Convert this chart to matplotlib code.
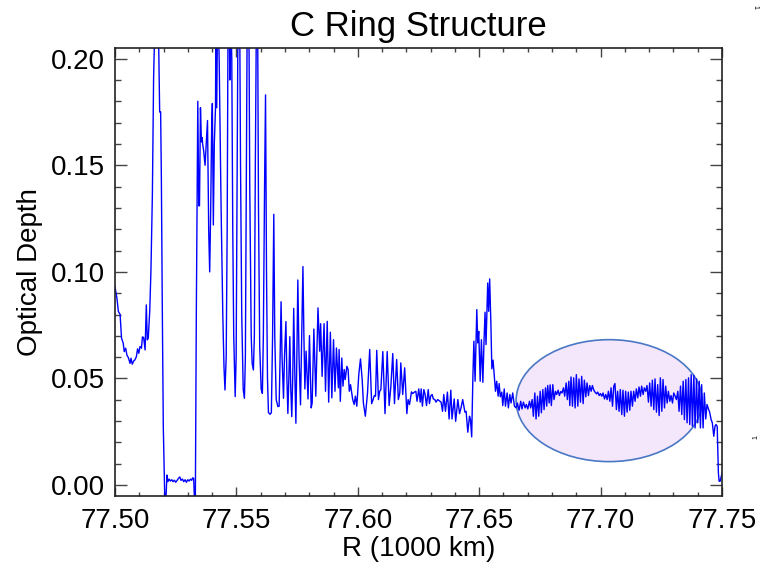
import matplotlib.pyplot as plt
import matplotlib.patches as patches
from matplotlib.ticker import MultipleLocator, FormatStrFormatter

plt.rcParams['font.family'] = ['Liberation Sans', 'DejaVu Sans']

# radius in units of 1000 km, optical depth
# inner edge, dense ringlet and the empty gap
r_inner = [77.5000, 77.5008, 77.5014, 77.5021, 77.5027, 77.5034, 77.5038, 77.5044,
           77.5049, 77.5055, 77.5062, 77.5066, 77.5071, 77.5077, 77.5082, 77.5088,
           77.5093, 77.5098, 77.5103, 77.5109, 77.5113, 77.5118, 77.5124, 77.5129,
           77.5133, 77.5137, 77.5143, 77.5148, 77.5154, 77.5159, 77.5165, 77.5169,
           77.5173, 77.5179, 77.5184, 77.5188, 77.5191, 77.5195, 77.5199, 77.5205,
           77.5210, 77.5214, 77.5218, 77.5223, 77.5228, 77.5234, 77.5239, 77.5245,
           77.5250, 77.5256, 77.5261, 77.5267, 77.5272, 77.5278, 77.5283, 77.5289,
           77.5294, 77.5300, 77.5305, 77.5311, 77.5316, 77.5320, 77.5324, 77.5327,
           77.5331]
tau_inner = [0.0930, 0.0876, 0.0814, 0.0801, 0.0689, 0.0665, 0.0626, 0.0642,
             0.0610, 0.0598, 0.0571, 0.0595, 0.0567, 0.0582, 0.0587, 0.0602,
             0.0639, 0.0618, 0.0650, 0.0642, 0.0695, 0.0692, 0.0634, 0.0845,
             0.0681, 0.0689, 0.0814, 0.1002, 0.1362, 0.1909, 0.2200, 0.2120,
             0.2300, 0.2140, 0.1750, 0.1750, 0.1440, 0.0810, 0.0270, -0.0060,
             -0.0060, 0.0047, 0.0016, 0.0028, 0.0019, 0.0025, 0.0016, 0.0023,
             0.0013, 0.0022, 0.0031, 0.0038, 0.0022, 0.0028, 0.0016, 0.0025,
             0.0013, 0.0025, 0.0019, 0.0028, 0.0022, 0.0034, 0.0031, -0.0060,
             -0.0060]

# strong wave train beyond the gap
r_wave = [77.5335, 77.5341, 77.5345, 77.5348, 77.5352, 77.5356, 77.5359, 77.5361,
          77.5365, 77.5371, 77.5376, 77.5381, 77.5386, 77.5390, 77.5394, 77.5398,
          77.5401, 77.5405, 77.5409, 77.5414, 77.5416, 77.5419, 77.5423, 77.5429,
          77.5437, 77.5444, 77.5449, 77.5453, 77.5458, 77.5462, 77.5466, 77.5470,
          77.5473, 77.5475, 77.5481, 77.5485, 77.5489, 77.5495, 77.5499, 77.5503,
          77.5507, 77.5513, 77.5517, 77.5522, 77.5528, 77.5533, 77.5537, 77.5541,
          77.5545, 77.5551, 77.5555, 77.5561, 77.5565, 77.5570, 77.5574, 77.5578,
          77.5583, 77.5587, 77.5591, 77.5596, 77.5602, 77.5607, 77.5611, 77.5616,
          77.5620, 77.5624, 77.5628, 77.5632, 77.5639, 77.5644, 77.5649, 77.5654,
          77.5658, 77.5664, 77.5671, 77.5676, 77.5680, 77.5684, 77.5688, 77.5694,
          77.5698, 77.5704, 77.5708, 77.5712, 77.5716, 77.5720, 77.5724, 77.5728,
          77.5732, 77.5736, 77.5741, 77.5745, 77.5749, 77.5753, 77.5758, 77.5764,
          77.5769, 77.5774, 77.5778, 77.5782]
tau_wave = [0.0810, 0.1800, 0.1310, 0.1310, 0.1770, 0.1610, 0.1630, 0.1600,
            0.1570, 0.1500, 0.1610, 0.1710, 0.1190, 0.1000, 0.1280, 0.1670,
            0.1790, 0.1220, 0.1600, 0.1770, 0.2300, 0.1770, 0.2300, 0.2000,
            0.1300, 0.0800, 0.0550, 0.0446, 0.0600, 0.1200, 0.2300, 0.2300,
            0.1900, 0.2300, 0.2000, 0.1200, 0.0700, 0.0415, 0.0600, 0.1500,
            0.2300, 0.2300, 0.1500, 0.0800, 0.0450, 0.0407, 0.0600, 0.1500,
            0.2300, 0.2300, 0.1400, 0.0700, 0.0570, 0.0540, 0.0700, 0.1500,
            0.2300, 0.2300, 0.1300, 0.0650, 0.0450, 0.0430, 0.0700, 0.1400,
            0.1830, 0.1000, 0.0500, 0.0340, 0.0332, 0.0340, 0.0700, 0.1270,
            0.0700, 0.0400, 0.0368, 0.0370, 0.0600, 0.0860, 0.0600, 0.0407,
            0.0600, 0.0767, 0.0500, 0.0336, 0.0500, 0.0696, 0.0450, 0.0321,
            0.0500, 0.0829, 0.0500, 0.0290, 0.0600, 0.0962, 0.0600, 0.0376,
            0.0700, 0.1025, 0.0700, 0.0451]

# decaying waves and the sharp feature near 77.65
r_mid = [77.5787, 77.5795, 77.5801, 77.5808, 77.5812, 77.5819, 77.5827, 77.5836,
         77.5843, 77.5847, 77.5853, 77.5861, 77.5867, 77.5874, 77.5880, 77.5887,
         77.5893, 77.5900, 77.5906, 77.5912, 77.5920, 77.5923, 77.5928, 77.5934,
         77.5939, 77.5944, 77.5948, 77.5955, 77.5960, 77.5965, 77.5970, 77.5974,
         77.5979, 77.5985, 77.5990, 77.5996, 77.6004, 77.6011, 77.6018, 77.6023,
         77.6031, 77.6040, 77.6049, 77.6057, 77.6063, 77.6068, 77.6073, 77.6078,
         77.6085, 77.6090, 77.6095, 77.6103, 77.6112, 77.6121, 77.6129, 77.6136,
         77.6144, 77.6151, 77.6160, 77.6167, 77.6173, 77.6177, 77.6185, 77.6193,
         77.6202, 77.6207, 77.6213, 77.6221, 77.6226, 77.6233, 77.6239, 77.6244,
         77.6251, 77.6257, 77.6261, 77.6266, 77.6272, 77.6277, 77.6283, 77.6290,
         77.6295, 77.6300, 77.6306, 77.6311, 77.6317, 77.6322, 77.6329, 77.6336,
         77.6343, 77.6349, 77.6354, 77.6361, 77.6369, 77.6376, 77.6383, 77.6388,
         77.6397, 77.6403, 77.6412, 77.6419, 77.6425, 77.6432, 77.6441, 77.6446,
         77.6453, 77.6460, 77.6464, 77.6469, 77.6474, 77.6478, 77.6483, 77.6490,
         77.6494, 77.6498, 77.6504, 77.6509, 77.6515, 77.6520, 77.6524, 77.6528,
         77.6535, 77.6539, 77.6543, 77.6548, 77.6552, 77.6557, 77.6563, 77.6567,
         77.6572, 77.6578, 77.6582, 77.6587, 77.6593, 77.6597, 77.6603, 77.6608,
         77.6615, 77.6620, 77.6626, 77.6631, 77.6638, 77.6645]
tau_mid = [0.0628, 0.0404, 0.0701, 0.0362, 0.0385, 0.0732, 0.0417, 0.0831,
           0.0628, 0.0757, 0.0510, 0.0757, 0.0440, 0.0768, 0.0389, 0.0717,
           0.0409, 0.0682, 0.0440, 0.0643, 0.0456, 0.0636, 0.0393, 0.0596,
           0.0464, 0.0542, 0.0495, 0.0557, 0.0542, 0.0440, 0.0471, 0.0440,
           0.0401, 0.0378, 0.0417, 0.0370, 0.0518, 0.0592, 0.0495, 0.0385,
           0.0323, 0.0432, 0.0636, 0.0382, 0.0401, 0.0420, 0.0417, 0.0632,
           0.0401, 0.0440, 0.0448, 0.0626, 0.0335, 0.0626, 0.0373, 0.0460,
           0.0617, 0.0382, 0.0589, 0.0401, 0.0432, 0.0573, 0.0425, 0.0550,
           0.0335, 0.0401, 0.0378, 0.0437, 0.0429, 0.0436, 0.0440, 0.0393,
           0.0451, 0.0389, 0.0451, 0.0370, 0.0448, 0.0425, 0.0373, 0.0448,
           0.0382, 0.0417, 0.0425, 0.0404, 0.0401, 0.0389, 0.0401, 0.0395,
           0.0389, 0.0346, 0.0425, 0.0346, 0.0436, 0.0310, 0.0445, 0.0310,
           0.0404, 0.0299, 0.0401, 0.0335, 0.0362, 0.0401, 0.0342, 0.0346,
           0.0248, 0.0323, 0.0307, 0.0226, 0.0510, 0.0675, 0.0487, 0.0823,
           0.0667, 0.0721, 0.0487, 0.0682, 0.0482, 0.0682, 0.0811, 0.0659,
           0.0948, 0.0815, 0.0967, 0.0761, 0.0545, 0.0586, 0.0495, 0.0440,
           0.0487, 0.0417, 0.0476, 0.0414, 0.0436, 0.0373, 0.0451, 0.0370,
           0.0432, 0.0362, 0.0425, 0.0385, 0.0432, 0.0370]

# beating wave pattern out to the outer edge
r_outer = [77.6652, 77.6657, 77.6664, 77.6671, 77.6676, 77.6682, 77.6689, 77.6694,
           77.6700, 77.6707, 77.6712, 77.6718, 77.6723, 77.6729, 77.6734, 77.6740,
           77.6745, 77.6751, 77.6756, 77.6762, 77.6767, 77.6773, 77.6778, 77.6782,
           77.6788, 77.6792, 77.6797, 77.6803, 77.6808, 77.6814, 77.6819, 77.6825,
           77.6830, 77.6836, 77.6841, 77.6847, 77.6852, 77.6858, 77.6863, 77.6869,
           77.6873, 77.6878, 77.6884, 77.6889, 77.6895, 77.6900, 77.6906, 77.6911,
           77.6917, 77.6922, 77.6928, 77.6933, 77.6939, 77.6944, 77.6950, 77.6955,
           77.6961, 77.6966, 77.6972, 77.6977, 77.6983, 77.6988, 77.6994, 77.6999,
           77.7005, 77.7010, 77.7016, 77.7021, 77.7027, 77.7032, 77.7038, 77.7043,
           77.7049, 77.7054, 77.7059, 77.7065, 77.7070, 77.7076, 77.7081, 77.7087,
           77.7092, 77.7098, 77.7103, 77.7109, 77.7114, 77.7120, 77.7125, 77.7131,
           77.7136, 77.7142, 77.7147, 77.7153, 77.7158, 77.7164, 77.7169, 77.7175,
           77.7180, 77.7186, 77.7191, 77.7197, 77.7202, 77.7208, 77.7213, 77.7219,
           77.7224, 77.7230, 77.7235, 77.7241, 77.7246, 77.7252, 77.7257, 77.7263,
           77.7268, 77.7274, 77.7279, 77.7285, 77.7290, 77.7296, 77.7301, 77.7307,
           77.7312, 77.7318, 77.7323, 77.7329, 77.7334, 77.7340, 77.7345, 77.7351,
           77.7356, 77.7362, 77.7367, 77.7373, 77.7378, 77.7384, 77.7389, 77.7395,
           77.7400, 77.7406, 77.7411, 77.7416, 77.7422, 77.7427, 77.7433, 77.7438,
           77.7444, 77.7449, 77.7455, 77.7460, 77.7466, 77.7471, 77.7475, 77.7480,
           77.7482, 77.7485, 77.7488, 77.7492, 77.7497, 77.7500]
tau_outer = [0.0362, 0.0385, 0.0351, 0.0393, 0.0357, 0.0389, 0.0362, 0.0378,
             0.0357, 0.0393, 0.0362, 0.0401, 0.0323, 0.0432, 0.0310, 0.0417,
             0.0323, 0.0440, 0.0339, 0.0448, 0.0354, 0.0456, 0.0370, 0.0467,
             0.0385, 0.0470, 0.0373, 0.0471, 0.0401, 0.0440, 0.0425, 0.0445,
             0.0420, 0.0439, 0.0432, 0.0456, 0.0417, 0.0479, 0.0401, 0.0487,
             0.0373, 0.0507, 0.0370, 0.0503, 0.0362, 0.0518, 0.0370, 0.0498,
             0.0389, 0.0510, 0.0382, 0.0492, 0.0414, 0.0479, 0.0420, 0.0467,
             0.0440, 0.0467, 0.0445, 0.0436, 0.0428, 0.0436, 0.0420, 0.0429,
             0.0417, 0.0432, 0.0404, 0.0425, 0.0401, 0.0440, 0.0393, 0.0456,
             0.0370, 0.0464, 0.0476, 0.0354, 0.0440, 0.0346, 0.0448, 0.0331,
             0.0445, 0.0323, 0.0440, 0.0342, 0.0436, 0.0351, 0.0440, 0.0370,
             0.0440, 0.0393, 0.0451, 0.0409, 0.0460, 0.0417, 0.0464, 0.0425,
             0.0456, 0.0440, 0.0467, 0.0389, 0.0479, 0.0370, 0.0492, 0.0354,
             0.0498, 0.0342, 0.0471, 0.0326, 0.0503, 0.0346, 0.0495, 0.0362,
             0.0464, 0.0385, 0.0440, 0.0393, 0.0420, 0.0385, 0.0432, 0.0417,
             0.0401, 0.0440, 0.0346, 0.0464, 0.0331, 0.0487, 0.0307, 0.0495,
             0.0292, 0.0503, 0.0284, 0.0518, 0.0276, 0.0514, 0.0268, 0.0498,
             0.0292, 0.0487, 0.0268, 0.0471, 0.0268, 0.0432, 0.0310, 0.0378,
             0.0357, 0.0342, 0.0307, 0.0292, 0.0229, 0.0276, 0.0284, 0.0276,
             0.0182, 0.0057, 0.0018, 0.0018, 0.0041, 0.0057]

radius = r_inner + r_wave + r_mid + r_outer
depth = tau_inner + tau_wave + tau_mid + tau_outer

fig = plt.figure(figsize=(7.61, 5.67), dpi=100)
ax = fig.add_axes([0.1511, 0.1257, 0.7977, 0.7896])

# highlighted region around the beating wave
ring = patches.Ellipse((77.7035, 0.0396), 0.0766, 0.0572,
                       facecolor='#f4e6fb', edgecolor='#4a78c4', linewidth=1.2, zorder=1)
ax.add_patch(ring)

ax.plot(radius, depth, color='#0000ff', linewidth=1.0, zorder=2)

ax.set_xlim(77.50, 77.75)
ax.set_ylim(-0.005, 0.205)
ax.xaxis.set_major_locator(MultipleLocator(0.05))
ax.xaxis.set_minor_locator(MultipleLocator(0.01))
ax.yaxis.set_major_locator(MultipleLocator(0.05))
ax.yaxis.set_minor_locator(MultipleLocator(0.01))
ax.xaxis.set_major_formatter(FormatStrFormatter('%.2f'))
ax.yaxis.set_major_formatter(FormatStrFormatter('%.2f'))

ax.tick_params(which='both', direction='in', top=True, right=True,
               color='#444444', width=1.0, labelsize=20)
ax.tick_params(axis='x', which='major', length=6.5, pad=9)
ax.tick_params(axis='x', which='minor', length=3)
ax.tick_params(axis='y', which='major', length=8.5, pad=7)
ax.tick_params(axis='y', which='minor', length=4.2)
for s in ax.spines.values():
    s.set_linewidth(1.2)
    s.set_color('#222222')

ax.set_title('C Ring Structure', fontsize=25, pad=9)
ax.set_xlabel('R (1000 km)', fontsize=20, labelpad=1)
ax.set_ylabel('Optical Depth', fontsize=20, labelpad=6)

# small stray marks along the right margin
fig.text(0.992, 0.988, '1', fontsize=5, rotation=-90, ha='center', va='center')
fig.text(0.993, 0.229, '1', fontsize=5, rotation=90, ha='center', va='center')

fig.savefig('out.png', dpi=100, facecolor='white')
